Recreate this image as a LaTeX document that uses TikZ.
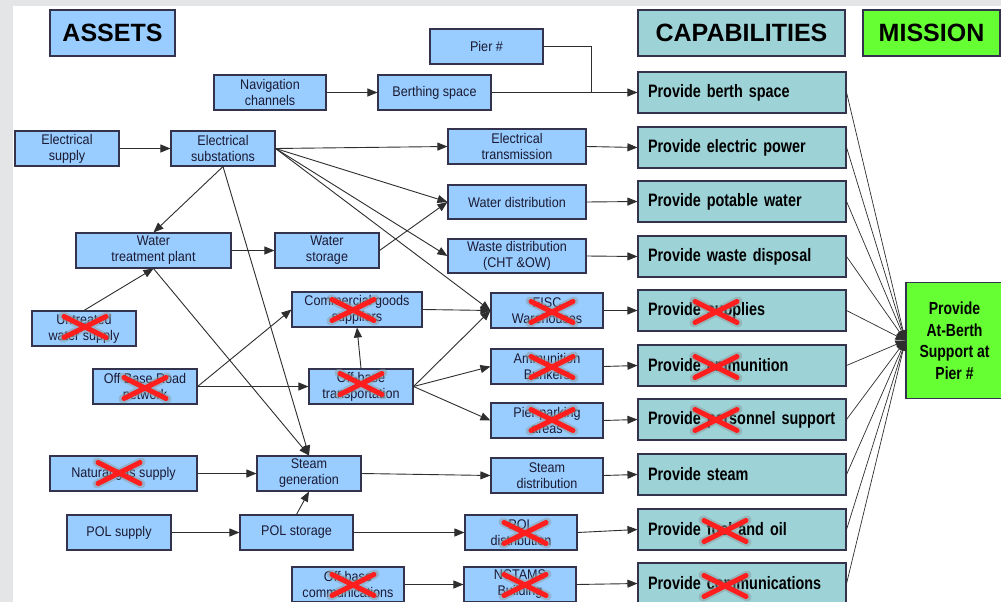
\documentclass[tikz,border=0pt]{standalone}
\usepackage{fontspec}
\setmainfont{Liberation Sans}
\newfontfamily\boxfont[FakeStretch=0.9]{Liberation Sans}
\newfontfamily\capfont[FakeStretch=0.8]{Liberation Sans}
\usetikzlibrary{arrows.meta}
\definecolor{assetblue}{HTML}{99CCFF}
\definecolor{capteal}{HTML}{9DD2D7}
\definecolor{missiongreen}{HTML}{66FF33}
\definecolor{boxline}{HTML}{33334D}
\definecolor{linkgray}{HTML}{2E2E2E}
\definecolor{inkblue}{HTML}{1A1A33}
\definecolor{crossred}{HTML}{FF1E1E}
\definecolor{crossglow}{HTML}{8C9C9C}
\definecolor{margin}{HTML}{E3E5E7}

\begin{document}
\begin{tikzpicture}[x=1pt,y=-1pt,
  asset/.style={draw=boxline, line width=1.1pt, fill=assetblue, minimum width=#1,
    minimum height=35pt, inner sep=0pt, align=center, text=inkblue,
    font=\boxfont\fontsize{14}{16}\selectfont},
  asset/.default=104pt,
  header/.style={draw=boxline, line width=1.1pt, minimum height=46pt, inner sep=0pt,
    text=black, font=\bfseries\fontsize{25}{28}\selectfont},
  capbox/.style={draw=boxline, line width=1.1pt, fill=capteal, text width=188pt,
    inner xsep=10pt, inner ysep=0pt, minimum height=41pt, align=left, text=black,
    font=\capfont\bfseries\fontsize{18}{20}\selectfont},
  missionbox/.style={draw=boxline, line width=1.1pt, fill=missiongreen, minimum width=97pt,
    minimum height=116pt, inner sep=0pt, align=center, text=black,
    font=\capfont\bfseries\fontsize{17.5}{21.5}\selectfont},
  link/.style={draw=linkgray, line width=0.9pt, -{Triangle[length=10pt,width=8pt]}},
  feed/.style={draw=linkgray, line width=0.7pt, -{Triangle[length=10pt,width=8pt]}},
  xmark/.pic={
    \draw[crossglow, line width=9pt, opacity=0.5, line cap=round]
      (-22,-11) -- (22,11) (-22,11) -- (22,-11);
    \draw[crossred, line width=5pt, line cap=round]
      (-21,-10.5) -- (21,10.5) (-21,10.5) -- (21,-10.5);
  }
]
\useasboundingbox (0,0) rectangle (1001,602);
\clip (0,0) rectangle (1001,602);

% page backdrop
\fill[margin] (0,0) rectangle (1001,602);
\fill[white] (13,6) rectangle (1001,602);

% column headers
\node[header, fill=assetblue, minimum width=125pt] (hassets) at (112.5,33) {ASSETS};
\node[header, fill=capteal, minimum width=207pt] (hcaps) at (741.5,33) {CAPABILITIES};
\node[header, fill=missiongreen, minimum width=137pt] (hmission) at (931.5,33) {MISSION};

% assets
\node[asset=113pt] (pier) at (486.5,46.5) {Pier \#};
\node[asset=112pt] (nav) at (270,92.5) {Navigation\\channels};
\node[asset=113pt] (berth) at (434.5,92.5) {Berthing space};
\node[asset] (esup) at (67,148.5) {Electrical\\supply};
\node[asset] (esub) at (223,148.5) {Electrical\\substations};
\node[asset=138pt] (etrans) at (517,146.5) {Electrical\\transmission};
\node[asset=138pt, minimum height=34pt] (wdist) at (517,202) {Water distribution};
\node[asset=138pt, minimum height=34pt] (waste) at (517,256) {Waste distribution\\(CHT \&OW)};
\node[asset=155pt] (wtp) at (153.5,250.5) {Water\\treatment plant};
\node[asset] (wstor) at (327,250.5) {Water\\storage};
\node[asset] (untr) at (84,328.5) {Untreated\\water supply};
\node[asset=130pt] (comm) at (357,309.5) {Commercial goods\\suppliers};
\node[asset=112pt] (fisc) at (547,310.5) {FISC\\Warehouses};
\node[asset] (road) at (145,386.5) {Off Base Road\\network};
\node[asset] (trans) at (361,386.5) {Off-base\\transportation};
\node[asset=112pt] (ammo) at (547,366.5) {Ammunition\\Bunkers};
\node[asset=112pt] (ppark) at (547,420.5) {Pier parking\\areas};
\node[asset=147pt] (natgas) at (123.5,473.5) {Natural gas supply};
\node[asset] (steamgen) at (309,473.5) {Steam\\generation};
\node[asset=112pt] (steamdist) at (547,475.5) {Steam\\distribution};
\node[asset] (polsup) at (119,532.5) {POL supply};
\node[asset=113pt] (polstor) at (296.5,532.5) {POL storage};
\node[asset=112pt] (poldist) at (521,532.5) {POL\\distribution};
\node[asset=112pt] (offcom) at (348,584.5) {Off-base\\communications};
\node[asset=112pt] (nctams) at (520,584.5) {NCTAMS\\Building};

% capabilities
\node[capbox] (c1) at (742,92.5) {Provide berth space};
\node[capbox] (c2) at (742,147.5) {Provide electric power};
\node[capbox] (c3) at (742,201.5) {Provide potable water};
\node[capbox] (c4) at (742,256.5) {Provide waste disposal};
\node[capbox] (c5) at (742,310.5) {Provide supplies};
\node[capbox] (c6) at (742,365.5) {Provide ammunition};
\node[capbox] (c7) at (742,419.5) {Provide personnel support};
\node[capbox] (c8) at (742,474.5) {Provide steam};
\node[capbox] (c9) at (742,529.5) {Provide fuel and oil};
\node[capbox] (c10) at (742,583.5) {Provide communications};

% mission
\node[missionbox] (mission) at (954.5,340.5) {Provide\\At-Berth\\Support at\\Pier \#};

% asset dependencies
\coordinate (pj) at (591,92.5);
\draw[draw=linkgray, line width=0.9pt] (pier.east) -| (pj);
\draw[link] (nav) -- (berth);
\draw[link] (esup) -- (esub);
\draw[link] (esub.east) -- (etrans.west);
\draw[link] (esub.east) -- (wdist.west);
\draw[link] (esub.east) -- (waste.west);
\draw[link] (esub.east) -- (fisc.west);
\draw[link] (esub.south) -- (wtp.north);
\draw[link] (esub.south) -- (steamgen.north);
\draw[link] (wtp) -- (wstor);
\draw[link] (wstor.east) -- (wdist.west);
\draw[link] (untr.north) -- (wtp.south);
\draw[link] (wtp.south) -- (steamgen.north);
\draw[link] (road.east) -- (comm.west);
\draw[link] (road.east) -- (trans.west);
\draw[link] (trans.north) -- (comm.south);
\draw[link] (comm.east) -- (fisc.west);
\draw[link] (trans.east) -- (fisc.west);
\draw[link] (trans.east) -- (ammo.west);
\draw[link] (trans.east) -- (ppark.west);
\draw[link] (natgas) -- (steamgen);
\draw[link] (polsup) -- (polstor);
\draw[link] (polstor.north) -- (steamgen.south);
\draw[link] (polstor) -- (poldist);
\draw[link] (steamgen.east) -- (steamdist.west);
\draw[link] (offcom) -- (nctams);

% assets to capabilities
\draw[link] (berth.east) -- (c1.west);
\draw[link] (etrans.east) -- (c2.west);
\draw[link] (wdist.east) -- (c3.west);
\draw[link] (waste.east) -- (c4.west);
\draw[link] (fisc.east) -- (c5.west);
\draw[link] (ammo.east) -- (c6.west);
\draw[link] (ppark.east) -- (c7.west);
\draw[link] (steamdist.east) -- (c8.west);
\draw[link] (poldist.east) -- (c9.west);
\draw[link] (nctams.east) -- (c10.west);

% capabilities to mission
\foreach \c in {c1,c2,c3,c4,c5,c6,c7,c8,c9,c10}
  \draw[feed] (\c.east) -- (mission.west);

% crossed-out items
\pic at (85,327) {xmark};
\pic at (353,310) {xmark};
\pic at (552,312) {xmark};
\pic at (145,388) {xmark};
\pic at (361,384) {xmark};
\pic at (552,367) {xmark};
\pic at (552,420) {xmark};
\pic at (119,473) {xmark};
\pic at (525,533) {xmark};
\pic at (353,585) {xmark};
\pic at (525,585) {xmark};
\pic at (716,312) {xmark};
\pic at (716,367) {xmark};
\pic at (716,420) {xmark};
\pic at (725,531) {xmark};
\pic at (725,586) {xmark};
\end{tikzpicture}
\end{document}
